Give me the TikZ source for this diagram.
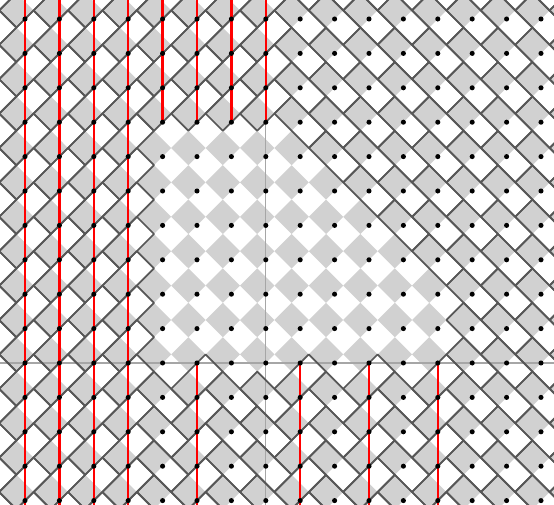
\documentclass[tikz,border=0pt]{standalone}
\usetikzlibrary{calc}

\begin{document}
\begin{tikzpicture}[
  x=1cm, y=-1cm,
  greysq/.style={fill=black!18},
  dominoedge/.style={draw=black!66, line width=1.45pt, line join=round},
  pathline/.style={red, line width=1.9pt},
  axisline/.style={black!35, line width=1pt},
  latticedot/.style={circle, fill=black, inner sep=0pt, minimum size=4.2pt}
]
  \useasboundingbox (-0.7267,-0.5523) rectangle (15.378,14.099);
  \clip (-0.7267,-0.5523) rectangle (15.378,14.099);

  % checkerboard: the grey square up-left of every lattice point
  \foreach \i in {-1,...,16}
    \foreach \j in {-1,...,15}
      \fill[greysq] (\i-0.75,\j-0.25) -- (\i-0.25,\j-0.75) -- (\i+0.25,\j-0.25) -- (\i-0.25,\j+0.25) -- cycle;

  % axes
  \draw[axisline] (7,-1) -- (7,15);
  \draw[axisline] (-1,10) -- (16,10);

  % dominoes: crossed by a path, empty, or left out (the hole)
  \foreach \i in {-1,...,16}
    \foreach \j in {-1,...,15} {
      \pgfmathtruncatemacro\onpath{(\i<4) || (\i<8 && \j<3) || (\j>9 && (\i==5 || \i==8 || \i==10 || \i==12))}
      \pgfmathtruncatemacro\inhole{(\i>3 && \i<13 && \j>2 && \j<11 && \i<\j+5) && !\onpath}
      \ifnum\onpath=1
        \draw[dominoedge] (\i+0.25,\j-0.25) -- (\i+0.75,\j+0.25) -- (\i-0.25,\j+1.25) -- (\i-0.75,\j+0.75) -- cycle;
      \else\ifnum\inhole=0
        \draw[dominoedge] (\i-0.75,\j-0.25) -- (\i-0.25,\j-0.75) -- (\i+0.75,\j+0.25) -- (\i+0.25,\j+0.75) -- cycle;
      \fi\fi
    }

  % paths
  \foreach \i in {-1,...,3}
    \draw[pathline] (\i,-1) -- (\i,15);
  \foreach \i in {4,...,7}
    \draw[pathline] (\i,-1) -- (\i,3);
  \foreach \i in {5,8,10,12}
    \draw[pathline] (\i,10) -- (\i,15);

  % lattice points
  \foreach \i in {0,...,15}
    \foreach \j in {0,...,14}
      \node[latticedot] (p\i-\j) at (\i,\j) {};
\end{tikzpicture}
\end{document}
